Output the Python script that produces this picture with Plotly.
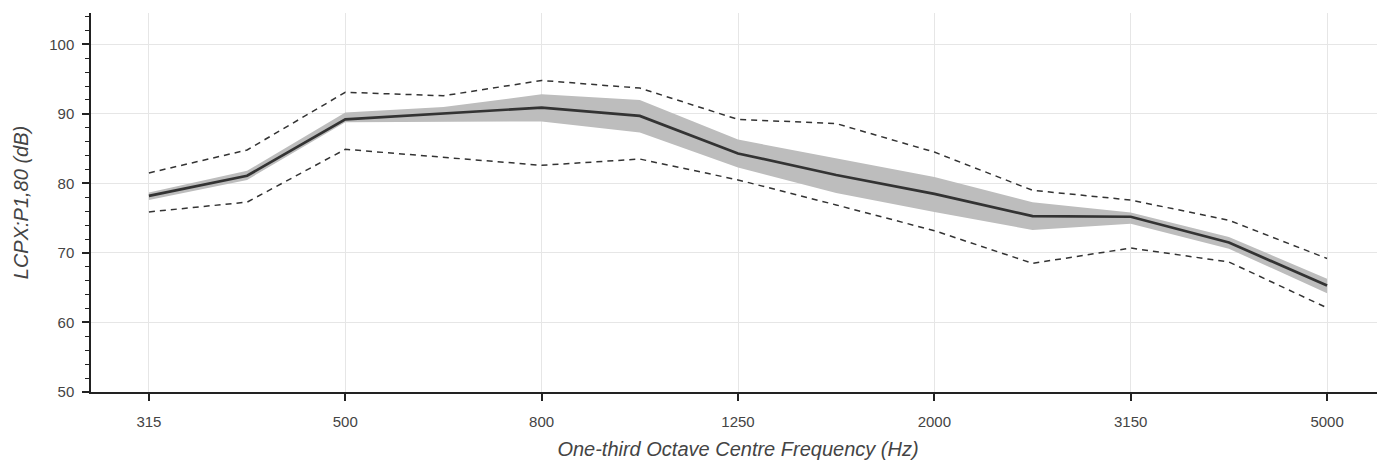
import plotly.graph_objects as go

freqs = ["315", "400", "500", "630", "800", "1000", "1250", "1600", "2000", "2500", "3150", "4000", "5000"]
mean_vals = [78.2, 81.1, 89.2, 90.1, 90.9, 89.7, 84.3, 81.2, 78.5, 75.3, 75.2, 71.5, 65.3]
band_upper = [78.7, 81.8, 90.2, 91.0, 92.8, 92.0, 86.3, 83.6, 80.9, 77.3, 75.8, 72.3, 66.3]
band_lower = [77.6, 80.5, 88.8, 88.9, 88.9, 87.3, 82.3, 78.6, 75.9, 73.3, 74.2, 70.6, 64.2]
outer_upper = [81.5, 84.8, 93.1, 92.6, 94.8, 93.7, 89.2, 88.6, 84.5, 79.0, 77.6, 74.7, 69.2]
outer_lower = [75.9, 77.3, 84.9, 83.8, 82.6, 83.5, 80.5, 76.9, 73.2, 68.5, 70.7, 68.7, 62.1]
tick_labels = ["315", "500", "800", "1250", "2000", "3150", "5000"]

idx = list(range(len(freqs)))
tick_idx = [freqs.index(t) for t in tick_labels]

fig = go.Figure()
fig.add_trace(go.Scatter(
    x=idx + idx[::-1], y=band_upper + band_lower[::-1],
    fill="toself", fillcolor="#bdbdbd", line=dict(width=0),
    mode="lines", hoverinfo="skip", showlegend=False))
fig.add_trace(go.Scatter(
    x=idx, y=outer_upper, mode="lines",
    line=dict(color="#333333", width=1.5, dash="6px,5px"), showlegend=False))
fig.add_trace(go.Scatter(
    x=idx, y=outer_lower, mode="lines",
    line=dict(color="#333333", width=1.5, dash="6px,5px"), showlegend=False))
fig.add_trace(go.Scatter(
    x=idx, y=mean_vals, mode="lines",
    line=dict(color="#333333", width=2.7), showlegend=False))

font_family = "Liberation Sans, Arial, sans-serif"
# page body has an 8px default margin; compensate so the plot area sits where the reference has it
fig.update_layout(
    width=1377, height=455,
    margin=dict(l=83, r=0, t=5, b=71),
    paper_bgcolor="white", plot_bgcolor="white",
    font=dict(family=font_family, color="#444444", size=15),
)
fig.update_xaxes(
    range=[-0.59, 12.59],
    tickmode="array", tickvals=tick_idx, ticktext=tick_labels,
    showgrid=True, gridcolor="#e6e6e6", gridwidth=1,
    showline=True, linecolor="#222222", linewidth=1.5,
    ticks="outside", ticklen=7, tickcolor="#222222", tickwidth=1.5,
    ticklabelstandoff=8,
    tickfont=dict(size=15, color="#444444"),
    zeroline=False, automargin=False,
    title=dict(text="<i>One-third Octave Centre Frequency (Hz)</i>",
               font=dict(size=20, color="#444444"), standoff=13),
)
fig.update_yaxes(
    range=[50, 104.5],
    tickmode="linear", tick0=50, dtick=10,
    showgrid=True, gridcolor="#e6e6e6", gridwidth=1,
    showline=True, linecolor="#222222", linewidth=1.5,
    ticks="outside", ticklen=7, tickcolor="#222222", tickwidth=1.5,
    ticklabelstandoff=5,
    minor=dict(ticks="outside", ticklen=4, dtick=2, tickcolor="#222222", tickwidth=1.2, showgrid=False),
    tickfont=dict(size=15, color="#444444"),
    zeroline=False, automargin=False,
    title=dict(text="<i>LCPX:P1,80 (dB)</i>",
               font=dict(size=20, color="#444444"), standoff=15),
)

fig.write_html("out.html")
